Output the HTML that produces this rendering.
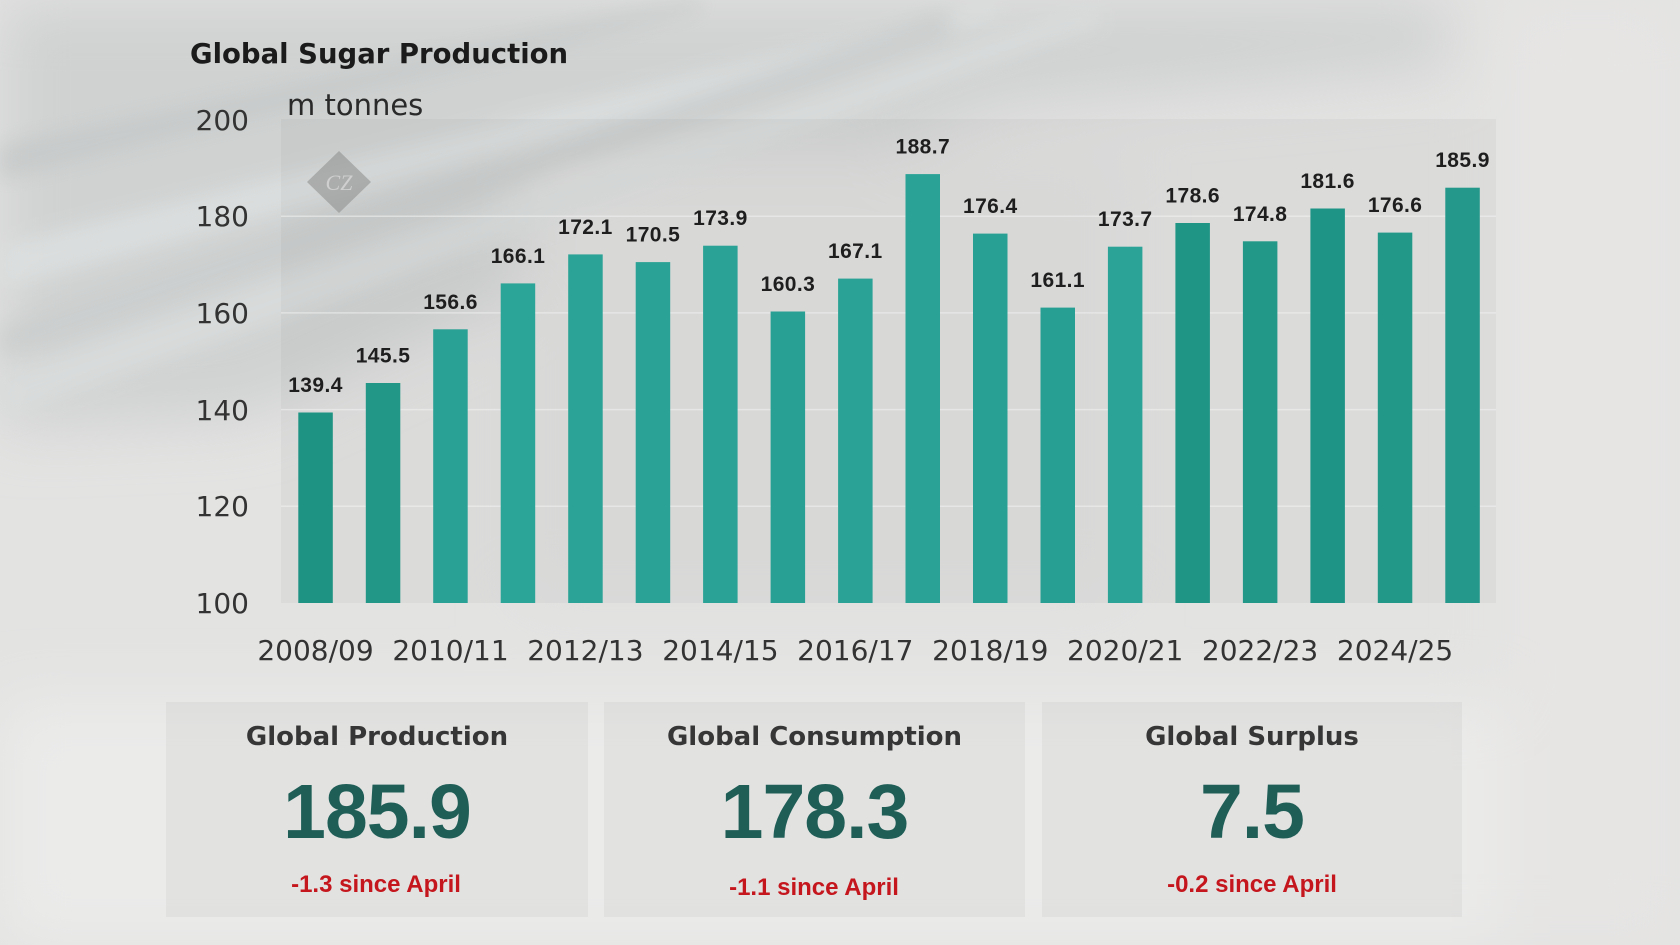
<!DOCTYPE html>
<html><head><meta charset="utf-8"><style>
html,body{margin:0;padding:0;width:1680px;height:945px;overflow:hidden;}
body{background:#e3e3e2;}
svg{display:block;overflow:hidden;}
</style></head><body>
<svg width="1680" height="945" viewBox="0 0 1680 945" xmlns="http://www.w3.org/2000/svg">
<defs>
<filter id="b30" filterUnits="userSpaceOnUse" x="0" y="0" width="1680" height="945"><feGaussianBlur stdDeviation="30"/></filter>
<filter id="b10" filterUnits="userSpaceOnUse" x="0" y="0" width="1680" height="945"><feGaussianBlur stdDeviation="10"/></filter>
</defs>
<!-- background -->
<rect x="0" y="0" width="1680" height="945" fill="#e3e3e2"/>
<g filter="url(#b30)">
<polygon points="0,0 1450,0 1450,70 1000,110 600,260 250,420 0,430" fill="#d0d2d2"/>
<rect x="0" y="700" width="1680" height="245" fill="#ebebea"/>
<rect x="1500" y="0" width="180" height="945" fill="#e6e5e4"/>
<rect x="520" y="150" width="600" height="450" fill="#dfdfde"/>
</g>
<g filter="url(#b10)" opacity="0.85">
<polygon points="0,245 1000,0 1000,15 0,290" fill="#dde0e0"/>
<polygon points="0,375 1100,0 1100,25 0,420" fill="#dadddd"/>
<polygon points="0,145 700,0 700,10 0,180" fill="#c6c9c9"/>
<polygon points="0,328 950,10 950,35 0,358" fill="#cbcece"/>
</g>

<!-- plot background -->
<rect x="281" y="119" width="1215" height="484" fill="#000" fill-opacity="0.03"/>
<!-- gridlines -->
<g stroke="#f2f2f2" stroke-opacity="0.55" stroke-width="1.5">
<line x1="281" y1="216.2" x2="1496" y2="216.2"/>
<line x1="281" y1="312.9" x2="1496" y2="312.9"/>
<line x1="281" y1="409.6" x2="1496" y2="409.6"/>
<line x1="281" y1="506.3" x2="1496" y2="506.3"/>
</g>

<!-- watermark -->
<polygon points="339,151 371,182 339,213 307,182" fill="#8a8a8a" fill-opacity="0.55"/>
<text x="339" y="190" text-anchor="middle" font-family="Liberation Serif, serif" font-style="italic" font-size="22" fill="#cfcfcf">CZ</text>

<!-- title -->
<text x="190" y="63" font-family="DejaVu Sans, sans-serif" font-weight="bold" font-size="27.5" fill="#1b1b1b">Global Sugar Production</text>
<text x="287" y="115" font-family="DejaVu Sans, sans-serif" font-size="29" fill="#2a2a2a">m tonnes</text>

<!-- y axis labels -->
<g font-family="DejaVu Sans, sans-serif" font-size="28" fill="#333" text-anchor="end">
<text x="249" y="130">200</text>
<text x="249" y="226">180</text>
<text x="249" y="323">160</text>
<text x="249" y="420">140</text>
<text x="249" y="516">120</text>
<text x="249" y="613">100</text>
</g>

<!-- bars -->
<g>
<rect x="298.3" y="412.5" width="34.5" height="190.5" fill="#1e9384"/>
<rect x="365.8" y="383.0" width="34.5" height="220.0" fill="#229788"/>
<rect x="433.2" y="329.3" width="34.5" height="273.7" fill="#29a194"/>
<rect x="500.7" y="283.4" width="34.5" height="319.6" fill="#2ba597"/>
<rect x="568.2" y="254.4" width="34.5" height="348.6" fill="#2ba396"/>
<rect x="635.7" y="262.1" width="34.5" height="340.9" fill="#2aa295"/>
<rect x="703.1" y="245.7" width="34.5" height="357.3" fill="#2aa296"/>
<rect x="770.6" y="311.5" width="34.5" height="291.5" fill="#28a093"/>
<rect x="838.1" y="278.6" width="34.5" height="324.4" fill="#2aa295"/>
<rect x="905.5" y="174.1" width="34.5" height="428.9" fill="#2aa396"/>
<rect x="973.0" y="233.6" width="34.5" height="369.4" fill="#28a194"/>
<rect x="1040.5" y="307.6" width="34.5" height="295.4" fill="#27a093"/>
<rect x="1107.9" y="246.7" width="34.5" height="356.3" fill="#2ba396"/>
<rect x="1175.4" y="223.0" width="34.5" height="380.0" fill="#1f9586"/>
<rect x="1242.9" y="241.3" width="34.5" height="361.7" fill="#229888"/>
<rect x="1310.4" y="208.5" width="34.5" height="394.5" fill="#1e9486"/>
<rect x="1377.8" y="232.6" width="34.5" height="370.4" fill="#229889"/>
<rect x="1445.3" y="187.7" width="34.5" height="415.3" fill="#24998b"/>
</g>

<!-- data labels -->
<g font-family="Liberation Sans, sans-serif" font-weight="bold" font-size="21" letter-spacing="0.4" fill="#1e1e1e" text-anchor="middle">
<text x="315.5" y="392">139.4</text>
<text x="383.0" y="362.5">145.5</text>
<text x="450.5" y="309">156.6</text>
<text x="518.0" y="263">166.1</text>
<text x="585.4" y="234">172.1</text>
<text x="652.9" y="241.5">170.5</text>
<text x="720.4" y="225">173.9</text>
<text x="787.9" y="291">160.3</text>
<text x="855.3" y="258">167.1</text>
<text x="922.8" y="153.5">188.7</text>
<text x="990.3" y="213">176.4</text>
<text x="1057.7" y="287">161.1</text>
<text x="1125.2" y="226">173.7</text>
<text x="1192.7" y="202.5">178.6</text>
<text x="1260.1" y="221">174.8</text>
<text x="1327.6" y="188">181.6</text>
<text x="1395.1" y="212">176.6</text>
<text x="1462.5" y="167">185.9</text>
</g>

<!-- x axis labels -->
<g font-family="DejaVu Sans, sans-serif" font-size="28" fill="#333" text-anchor="middle">
<text x="315.5" y="660">2008/09</text>
<text x="450.5" y="660">2010/11</text>
<text x="585.4" y="660">2012/13</text>
<text x="720.4" y="660">2014/15</text>
<text x="855.3" y="660">2016/17</text>
<text x="990.3" y="660">2018/19</text>
<text x="1125.2" y="660">2020/21</text>
<text x="1260.1" y="660">2022/23</text>
<text x="1395.1" y="660">2024/25</text>
</g>

<!-- bottom panels -->
<rect x="166" y="702" width="422" height="215" fill="#000" fill-opacity="0.035"/>
<rect x="604" y="702" width="421" height="215" fill="#000" fill-opacity="0.035"/>
<rect x="1042" y="702" width="420" height="215" fill="#000" fill-opacity="0.035"/>

<g font-family="DejaVu Sans, sans-serif" font-weight="bold" font-size="26" fill="#363636" text-anchor="middle">
<text x="377" y="745">Global Production</text>
<text x="814.5" y="745">Global Consumption</text>
<text x="1252" y="745">Global Surplus</text>
</g>
<g font-family="Liberation Sans, sans-serif" font-weight="bold" font-size="77" letter-spacing="-1" fill="#1f5e57" text-anchor="middle">
<text x="377" y="838">185.9</text>
<text x="814.5" y="838">178.3</text>
<text x="1252" y="838">7.5</text>
</g>
<g font-family="Liberation Sans, sans-serif" font-weight="bold" font-size="24" fill="#c4161c" text-anchor="middle">
<text x="376" y="892">-1.3 since April</text>
<text x="814" y="895">-1.1 since April</text>
<text x="1252" y="892">-0.2 since April</text>
</g>
</svg>
</body></html>
